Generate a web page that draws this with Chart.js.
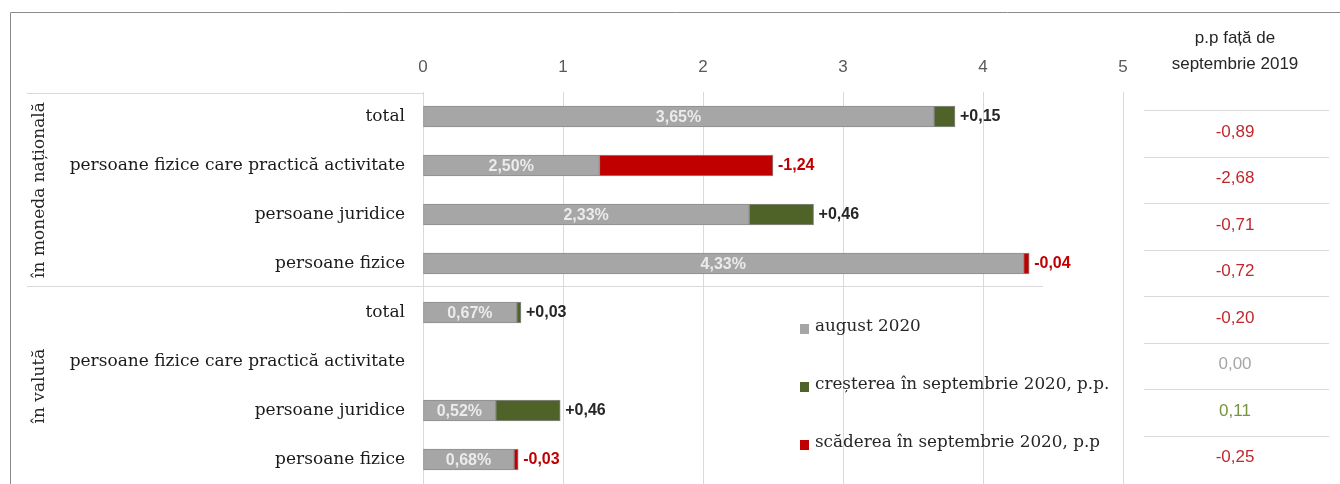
<!DOCTYPE html>
<html lang="ro">
<head>
    <meta charset="UTF-8">
    <title>Rate dobânzi</title>
    <script src="https://cdn.jsdelivr.net/npm/chart.js"></script>
    <style>
        body { margin: 0; background: #fff; }
        .wrap { position: relative; width: 1340px; height: 484px; }
    </style>
</head>
<body>
    <div class="wrap"><canvas id="chart"></canvas></div>

    <script>
        // Data
        const categories = ['total', 'persoane fizice care practică activitate', 'persoane juridice', 'persoane fizice',
                            'total', 'persoane fizice care practică activitate', 'persoane juridice', 'persoane fizice'];
        const groups = ['în moneda națională', 'în valută'];
        const august2020 = [3.65, 2.50, 2.33, 4.33, 0.67, 0, 0.52, 0.68];
        const changeSep2020 = [0.15, -1.24, 0.46, -0.04, 0.03, 0, 0.46, -0.03];
        const ppVsSep2019 = [-0.89, -2.68, -0.71, -0.72, -0.20, 0.00, 0.11, -0.25];
        const xTicks = [0, 1, 2, 3, 4, 5];
        const legendLabels = ['august 2020', 'creșterea în septembrie 2020, p.p.', 'scăderea în septembrie 2020, p.p'];

        const GREY = '#a6a6a6', GREEN = '#4f6228', RED = '#c00000';
        const SERIF = '"DejaVu Serif", "Liberation Serif", serif';
        const SANS = '"Liberation Sans Narrow", "Liberation Sans", sans-serif';

        const nz = v => v > 0 ? v : null;
        const baseVals = august2020.map((a, i) => nz(a + Math.min(changeSep2020[i], 0)));
        const upVals = changeSep2020.map(c => nz(c));
        const downVals = changeSep2020.map(c => nz(-c));
        const fmt = v => v.toFixed(2).replace('.', ',');

        const decor = {
            id: 'decor',
            beforeDraw(chart) {
                const ctx = chart.ctx, area = chart.chartArea;
                ctx.save();
                // outer frame
                ctx.strokeStyle = '#8c8c8c';
                ctx.lineWidth = 1;
                ctx.beginPath();
                ctx.moveTo(10.5, 484); ctx.lineTo(10.5, 12.5); ctx.lineTo(1340, 12.5);
                ctx.stroke();
                // group box lines
                ctx.strokeStyle = '#d9d9d9';
                ctx.beginPath();
                ctx.moveTo(27, area.top + 1.5); ctx.lineTo(area.left, area.top + 1.5);
                const y = chart.scales.y;
                const sep = (y.getPixelForValue(3) + y.getPixelForValue(4)) / 2 - 2;
                ctx.moveTo(27, Math.round(sep) + 0.5); ctx.lineTo(1043, Math.round(sep) + 0.5);
                ctx.stroke();
                ctx.restore();
            },
            afterDatasetsDraw(chart) {
                const ctx = chart.ctx, x = chart.scales.x, y = chart.scales.y;
                ctx.save();
                // labels inside grey bars and at bar ends
                categories.forEach((c, i) => {
                    const yc = y.getPixelForValue(i);
                    if (baseVals[i]) {
                        ctx.font = 'bold 16px ' + SANS;
                        ctx.fillStyle = '#ebebeb';
                        ctx.textAlign = 'center';
                        ctx.textBaseline = 'middle';
                        ctx.fillText(fmt(august2020[i]) + '%', (x.getPixelForValue(0) + x.getPixelForValue(baseVals[i])) / 2, yc + 1);
                    }
                    const ch = changeSep2020[i];
                    if (ch !== 0) {
                        const end = x.getPixelForValue(Math.max(august2020[i], august2020[i] + ch));
                        ctx.font = 'bold 16px ' + SANS;
                        ctx.textAlign = 'left';
                        ctx.textBaseline = 'middle';
                        ctx.fillStyle = ch > 0 ? '#262626' : RED;
                        ctx.fillText((ch > 0 ? '+' : '-') + fmt(Math.abs(ch)), end + 5, yc);
                    }
                });
                // group labels (rotated)
                ctx.font = '17px ' + SERIF;
                ctx.fillStyle = '#262626';
                ctx.textAlign = 'center';
                ctx.textBaseline = 'middle';
                groups.forEach((g, k) => {
                    const yMid = (y.getPixelForValue(k * 4) + y.getPixelForValue(k * 4 + 3)) / 2;
                    ctx.save();
                    ctx.translate(40, yMid);
                    ctx.rotate(-Math.PI / 2);
                    ctx.fillText(g, 0, 0);
                    ctx.restore();
                });
                // legend
                const colors = [GREY, GREEN, RED];
                ctx.font = '16.8px ' + SERIF;
                ctx.textAlign = 'left';
                ctx.textBaseline = 'middle';
                legendLabels.forEach((t, k) => {
                    const ly = 327 + k * 58;
                    ctx.fillStyle = colors[k];
                    ctx.fillRect(800, ly - 3, 9, 10);
                    ctx.fillStyle = '#262626';
                    ctx.fillText(t, 815, ly);
                });
                // right table
                ctx.font = '17px ' + SANS;
                ctx.fillStyle = '#262626';
                ctx.textAlign = 'center';
                ctx.fillText('p.p față de', 1235, 38);
                ctx.fillText('septembrie 2019', 1235, 64);
                const top = 110, rowH = 46.5;
                ctx.strokeStyle = '#d9d9d9';
                ctx.lineWidth = 1;
                ppVsSep2019.forEach((v, i) => {
                    const ly = Math.round(top + i * rowH) + 0.5;
                    ctx.beginPath();
                    ctx.moveTo(1144, ly); ctx.lineTo(1329, ly);
                    ctx.stroke();
                    ctx.fillStyle = v < 0 ? '#c0282d' : (v > 0 ? '#77933c' : '#a6a6a6');
                    ctx.font = '17px ' + SANS;
                    ctx.fillText(fmt(v), 1235, top + i * rowH + 22);
                });
                ctx.restore();
            }
        };

        new Chart(document.getElementById('chart'), {
            type: 'bar',
            data: {
                labels: categories,
                datasets: [
                    { label: legendLabels[0], data: baseVals, backgroundColor: GREY },
                    { label: legendLabels[1], data: upVals, backgroundColor: GREEN },
                    { label: legendLabels[2], data: downVals, backgroundColor: RED }
                ]
            },
            options: {
                indexAxis: 'y',
                responsive: true,
                maintainAspectRatio: false,
                devicePixelRatio: 1,
                animation: false,
                layout: { padding: { top: 0, right: 217, bottom: 0, left: 0 } },
                datasets: { bar: { barThickness: 21, borderWidth: 1, borderColor: '#8c8c8c', borderSkipped: false } },
                plugins: { legend: { display: false }, tooltip: { enabled: false } },
                scales: {
                    x: {
                        position: 'top',
                        stacked: true,
                        min: xTicks[0],
                        max: xTicks[xTicks.length - 1],
                        afterBuildTicks: s => { s.ticks = xTicks.map(v => ({ value: v })); },
                        afterFit: s => { s.height = 92; s.paddingLeft = 0; s.paddingRight = 0; },
                        grid: { color: '#d9d9d9', drawTicks: false },
                        border: { display: false },
                        ticks: { padding: 14, color: '#595959', font: { family: SANS, size: 17 } }
                    },
                    y: {
                        stacked: true,
                        afterFit: s => { s.width = 423; s.paddingTop = 0; s.paddingBottom = 0; },
                        grid: { display: false, drawTicks: false },
                        border: { display: false },
                        ticks: { autoSkip: false, padding: 18, color: '#1a1a1a', font: { family: SERIF, size: 17 } }
                    }
                }
            },
            plugins: [decor]
        });
    </script>
</body>
</html>
